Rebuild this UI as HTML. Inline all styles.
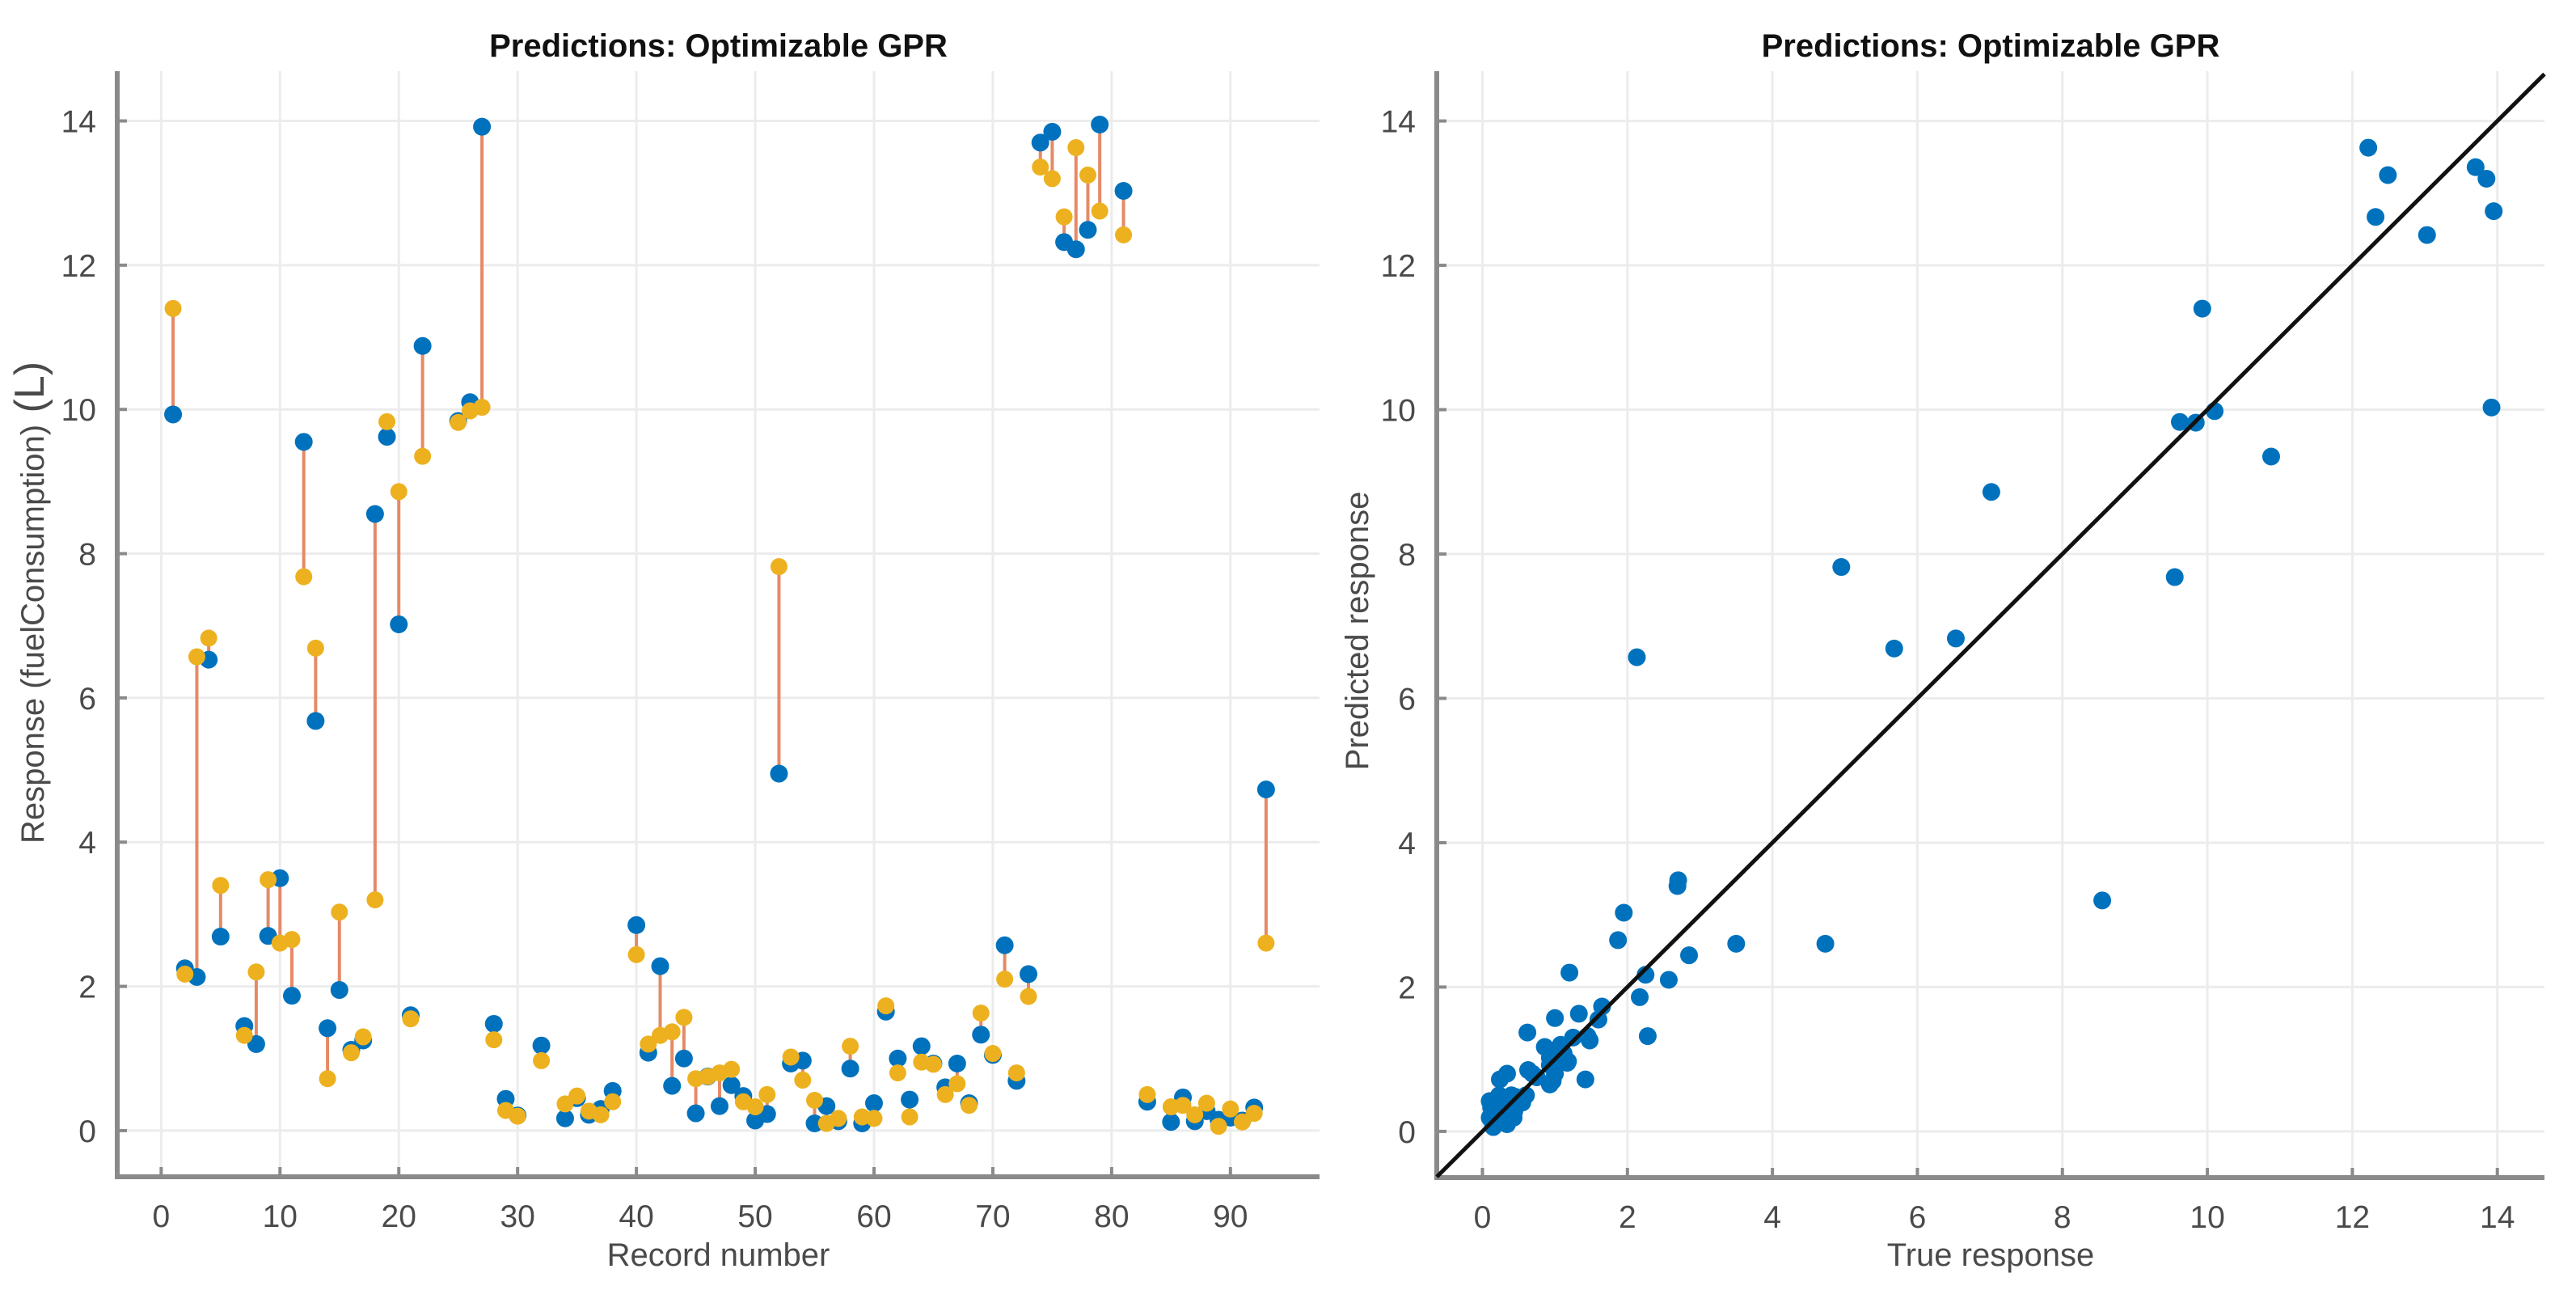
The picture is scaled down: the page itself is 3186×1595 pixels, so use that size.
<!DOCTYPE html>
<html><head><meta charset="utf-8"><style>
html,body{margin:0;padding:0;background:#fff}
svg{display:block;font-family:"Liberation Sans",Arial,sans-serif}
</style></head><body>
<svg id="fig" width="3186" height="1595" viewBox="0 0 3186 1595" xmlns="http://www.w3.org/2000/svg">
<rect width="3186" height="1595" fill="#fff"/>
<g id="left"></g>
<g id="right"></g>
</svg>
<script>
const records=[1,2,3,4,5,7,8,9,10,11,12,13,14,15,16,17,18,19,20,21,22,25,26,27,28,29,30,32,34,35,36,37,38,40,41,42,43,44,45,46,47,48,49,50,51,52,53,54,55,56,57,58,59,60,61,62,63,64,65,66,67,68,69,70,71,72,73,74,75,76,77,78,79,81,83,85,86,87,88,89,90,91,92,93];
const trueVals=[9.93,2.25,2.13,6.53,2.69,1.45,1.2,2.7,3.5,1.87,9.55,5.68,1.42,1.95,1.12,1.25,8.55,9.62,7.02,1.6,10.88,9.84,10.1,13.92,1.48,0.44,0.21,1.18,0.17,0.45,0.22,0.3,0.55,2.85,1.08,2.28,0.62,1.0,0.24,0.75,0.34,0.63,0.48,0.14,0.23,4.95,0.93,0.97,0.1,0.34,0.13,0.86,0.1,0.38,1.65,1.0,0.43,1.17,0.93,0.6,0.93,0.38,1.33,1.05,2.57,0.69,2.17,13.7,13.85,12.32,12.22,12.49,13.95,13.03,0.4,0.12,0.46,0.13,0.27,0.15,0.18,0.14,0.32,4.73];
const predVals=[11.4,2.17,6.57,6.83,3.4,1.32,2.2,3.48,2.6,2.65,7.68,6.69,0.72,3.03,1.08,1.3,3.2,9.83,8.86,1.55,9.35,9.82,9.98,10.03,1.26,0.28,0.2,0.97,0.37,0.48,0.27,0.22,0.4,2.44,1.2,1.32,1.37,1.57,0.72,0.75,0.8,0.85,0.4,0.33,0.5,7.82,1.02,0.7,0.42,0.1,0.17,1.17,0.19,0.17,1.73,0.8,0.19,0.95,0.92,0.5,0.65,0.35,1.63,1.07,2.1,0.8,1.86,13.36,13.2,12.67,13.63,13.25,12.75,12.42,0.5,0.33,0.35,0.22,0.38,0.06,0.3,0.12,0.24,2.6];
const leftXTicks=[0,10,20,30,40,50,60,70,80,90];
const yTicks=[0,2,4,6,8,10,12,14];
const rightXTicks=[0,2,4,6,8,10,12,14];

const NS="http://www.w3.org/2000/svg";
function mk(p,tag,at,txt){const e=document.createElementNS(NS,tag);for(const k in at)e.setAttribute(k,at[k]);if(txt!==undefined)e.textContent=txt;p.appendChild(e);return e;}

const L={x0:145,x1:1632,y0:88,y1:1455,xmin:-3.7,xmax:97.5,ymin:-0.64,ymax:14.69};
const R={x0:1777,x1:3147,y0:88,y1:1456,xmin:-0.63,xmax:14.65,ymin:-0.64,ymax:14.69};
function sx(A,v){return A.x0+(v-A.xmin)/(A.xmax-A.xmin)*(A.x1-A.x0);}
function sy(A,v){return A.y1-(v-A.ymin)/(A.ymax-A.ymin)*(A.y1-A.y0);}

function axes(g,A,xt,title,xl,yl,ylx,yly,big){
  for(const t of xt){const l=mk(g,'line',{x1:sx(A,t),x2:sx(A,t),y1:A.y0,y2:A.y1,stroke:'#ececec','stroke-width':3});
    }
  for(const t of yTicks){const l=mk(g,'line',{x1:A.x0,x2:A.x1,y1:sy(A,t),y2:sy(A,t),stroke:'#ececec','stroke-width':3});
    }
  const ax=mk(g,'path',{d:`M${A.x0},${A.y0} L${A.x0},${A.y1} L${A.x1},${A.y1}`,fill:'none',stroke:'#8a8a8a','stroke-width':6});
  
  for(const t of xt){const x=sx(A,t);
    mk(g,'line',{x1:x,x2:x,y1:A.y1,y2:A.y1-12,stroke:'#8a8a8a','stroke-width':4});
    const tx=mk(g,'text',{x:x,y:A.y1+62,'text-anchor':'middle','font-size':39,fill:'#4a4a4a'},String(t));
    }
  for(const t of yTicks){const y=sy(A,t);
    mk(g,'line',{x1:A.x0,x2:A.x0+12,y1:y,y2:y,stroke:'#8a8a8a','stroke-width':4});
    const tx=mk(g,'text',{x:A.x0-26,y:y+14,'text-anchor':'end','font-size':39,fill:'#4a4a4a'},String(t));
    }
  const cx=(A.x0+A.x1)/2;
  const ti=mk(g,'text',{x:cx,y:70,'text-anchor':'middle','font-size':40,'font-weight':'bold',fill:'#111'},title);
  
  const xlab=mk(g,'text',{x:cx,y:1565,'text-anchor':'middle','font-size':40,fill:'#4a4a4a'},xl);
  
  const ylab=mk(g,'text',{x:0,y:0,'text-anchor':'middle','font-size':40,fill:'#4a4a4a',transform:`translate(${ylx},${yly}) rotate(-90)`},yl);
  if(big){mk(ylab,'tspan',{'font-size':52},' (L)');}
  
}

const gl=document.getElementById('left');
axes(gl,L,leftXTicks,'Predictions: Optimizable GPR','Record number','Response (fuelConsumption)',54,745,true);
records.forEach((r,i)=>{const x=sx(L,r);
  const ln=mk(gl,'line',{x1:x,x2:x,y1:sy(L,trueVals[i]),y2:sy(L,predVals[i]),stroke:'#E58A66','stroke-width':4});
  });
records.forEach((r,i)=>{
  const c=mk(gl,'circle',{cx:sx(L,r),cy:sy(L,trueVals[i]),r:11,fill:'#0072BD'});
  });
records.forEach((r,i)=>{
  const c=mk(gl,'circle',{cx:sx(L,r),cy:sy(L,predVals[i]),r:10.5,fill:'#EDB120'});
  });

const gr=document.getElementById('right');
axes(gr,R,rightXTicks,'Predictions: Optimizable GPR','True response','Predicted response',1692,780,false);
trueVals.forEach((t,i)=>{
  const c=mk(gr,'circle',{cx:sx(R,t),cy:sy(R,predVals[i]),r:11,fill:'#0072BD'});
  });
const dl=mk(gr,'line',{x1:sx(R,R.xmin),y1:sy(R,R.xmin),x2:sx(R,R.xmax),y2:sy(R,R.xmax),stroke:'#111','stroke-width':5});

</script>
</body></html>
